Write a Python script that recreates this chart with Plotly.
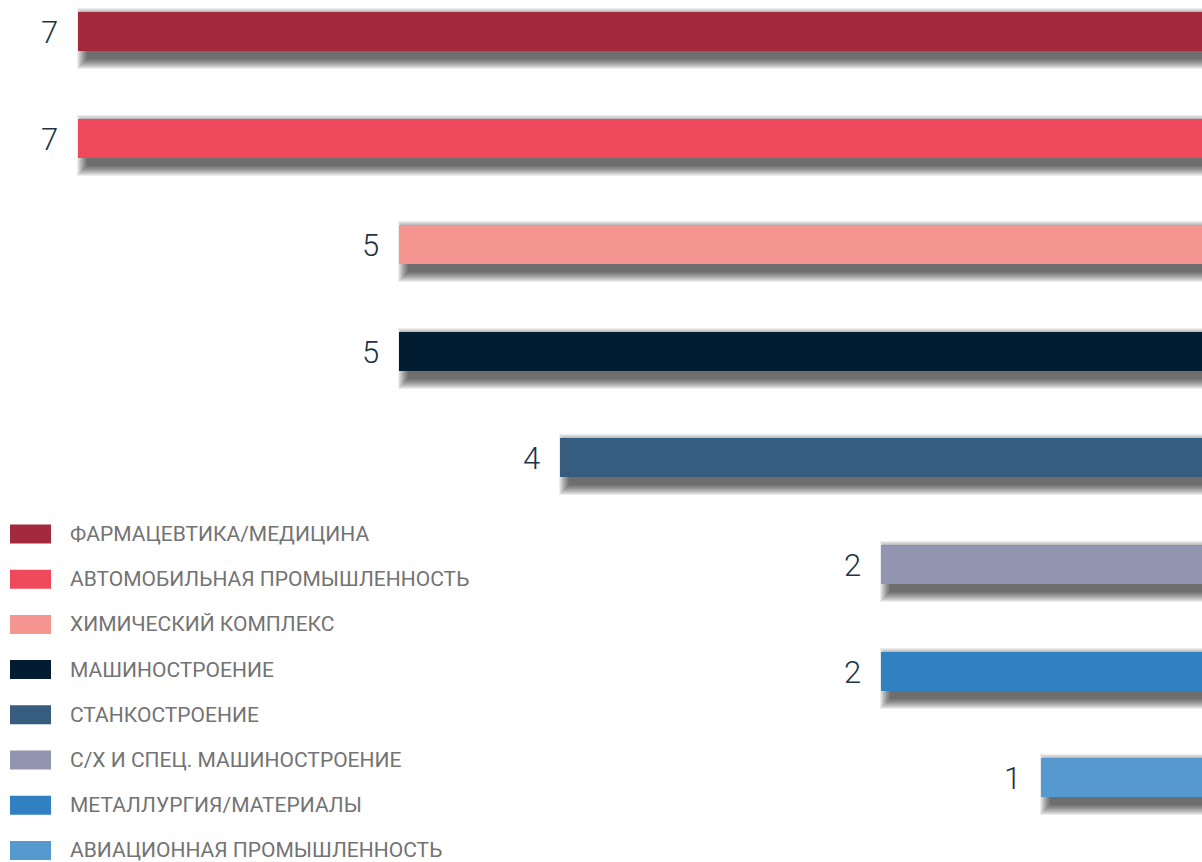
import plotly.graph_objects as go

categories = [
    "ФАРМАЦЕВТИКА/МЕДИЦИНА",
    "АВТОМОБИЛЬНАЯ ПРОМЫШЛЕННОСТЬ",
    "ХИМИЧЕСКИЙ КОМПЛЕКС",
    "МАШИНОСТРОЕНИЕ",
    "СТАНКОСТРОЕНИЕ",
    "С/Х И СПЕЦ. МАШИНОСТРОЕНИЕ",
    "МЕТАЛЛУРГИЯ/МАТЕРИАЛЫ",
    "АВИАЦИОННАЯ ПРОМЫШЛЕННОСТЬ",
]
values = [7, 7, 5, 5, 4, 2, 2, 1]
colors = ["#a3293d", "#ef4a5c", "#f4958f", "#021d31",
          "#365c80", "#9195b0", "#3180c2", "#5599cf"]

W, H = 1202, 862
px_per_x = 160.57          # pixels per unit on the value axis
px_per_y = 106.6           # pixels per category row
first_center = 31.5
bar_px = 39

x_left = W / px_per_x
y_top = -first_center / px_per_y
y_bot = (H - first_center) / px_per_y
bar_w = bar_px / px_per_y

pos = list(range(len(values)))

fig = go.Figure()

# soft drop shadow: stacked translucent layers, offset down-right
dx_px, dy_px = 10, 7
n_layers = 11
for k in range(n_layers, 0, -1):
    g = k
    right_base = -2.0  # well past the right edge (clipped)
    left_end = [v - (dx_px - g) / px_per_x for v in values]
    fig.add_trace(go.Bar(
        y=pos, x=[le - right_base for le in left_end],
        base=right_base,
        orientation="h",
        width=(bar_px + 2 * g) / px_per_y,
        offset=-(bar_px / 2 + g - dy_px) / px_per_y,
        marker=dict(color="rgba(0,0,0,0.07)", line=dict(width=0)),
        hoverinfo="skip", showlegend=False,
    ))

fig.add_trace(go.Bar(
    y=pos, x=values, orientation="h", width=bar_w,
    marker=dict(color=colors, line=dict(width=0)),
    hoverinfo="skip", showlegend=False,
))

for i, v in enumerate(values):
    fig.add_annotation(
        x=v, y=i, xref="x", yref="y", text=str(v), showarrow=False,
        xanchor="right", yanchor="middle", xshift=-18, yshift=-1,
        font=dict(family="Roboto", size=31, color="#1e3346", weight=300),
    )

# legend (drawn as layout elements)
leg_top = 534
leg_step = 45.2
for i, (name, c) in enumerate(zip(categories, colors)):
    cy = leg_top + i * leg_step
    fig.add_shape(type="rect", xref="paper", yref="paper",
                  x0=10 / W, x1=51 / W,
                  y0=1 - (cy - 9.5) / H, y1=1 - (cy + 9.5) / H,
                  fillcolor=c, line=dict(width=0), layer="above")
    fig.add_annotation(x=68 / W, y=1 - cy / H, xref="paper", yref="paper",
                       text=name, showarrow=False, xanchor="left",
                       yanchor="middle",
                       font=dict(family="Roboto", size=21, color="#737373"))

fig.update_layout(
    width=W, height=H,
    margin=dict(l=0, r=0, t=0, b=0),
    paper_bgcolor="white", plot_bgcolor="white",
    barmode="overlay", bargap=0,
    xaxis=dict(range=[x_left, 0], visible=False, fixedrange=True),
    yaxis=dict(range=[y_bot, y_top], visible=False, fixedrange=True),
    showlegend=False,
)

fig.write_html(
    "out.html",
    config={"displayModeBar": False, "staticPlot": True},
    post_script="document.body.style.margin='0';"
                "document.body.style.overflow='hidden';",
)
